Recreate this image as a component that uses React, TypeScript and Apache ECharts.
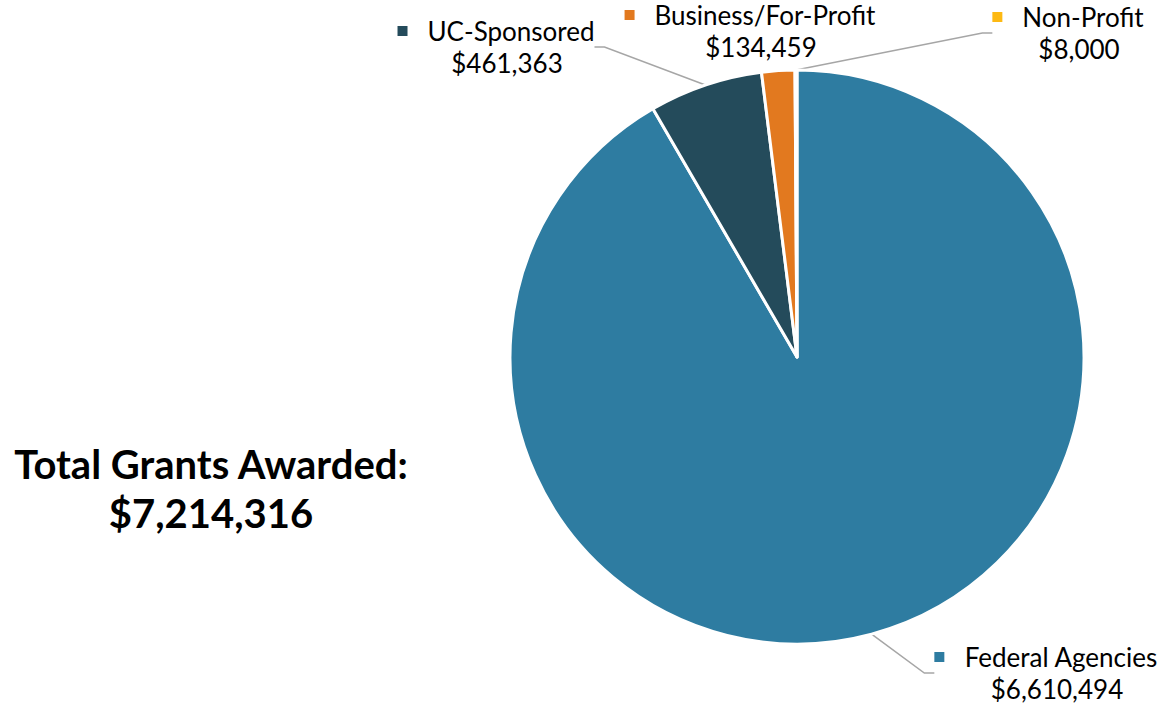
import React, { useEffect, useRef } from "react";
import * as echarts from "echarts";

const categories = ["Federal Agencies", "UC-Sponsored", "Business/For-Profit", "Non-Profit"];
const values = [6610494, 461363, 134459, 8000];
const colors = ["#2E7CA1", "#244B5B", "#E2791F", "#FDB913"];
const totalLabel = "Total Grants Awarded:";

// label block centers (layout only)
const labelPos = [
  { x: 1046, y: 673 },
  { x: 496, y: 47 },
  { x: 750, y: 31 },
  { x: 1068, y: 33 },
];

const fmt = (v: number) => "$" + v.toLocaleString("en-US");

export default function App() {
  const ref = useRef<HTMLDivElement>(null);
  useEffect(() => {
    document.body.style.margin = "0";
    const chart = echarts.init(ref.current!, null, { renderer: "svg" });
    const total = values.reduce((a, b) => a + b, 0);
    const font = "Lato, 'Noto Sans', sans-serif";
    chart.setOption({
      animation: false,
      graphic: [
        {
          type: "text",
          x: 211,
          y: 439,
          style: {
            text: totalLabel + "\n" + fmt(total),
            font: `bold 40px ${font}`,
            fill: "#000",
            align: "center",
            verticalAlign: "top",
            lineHeight: 49,
          },
        },
      ],
      series: [
        {
          type: "pie",
          center: [797, 357],
          radius: 287,
          startAngle: 90,
          clockwise: true,
          itemStyle: { borderColor: "#fff", borderWidth: 3 },
          label: {
            show: true,
            position: "outside",
            fontFamily: font,
            fontSize: 26,
            color: "#000",
            lineHeight: 32,
            formatter: (p: any) => `{m| }   ${p.name}\n{pad| }${fmt(p.value)}`,
          },
          labelLine: {
            show: true,
            length: 20,
            length2: 10,
            lineStyle: { color: "#A6A6A6", width: 1.5 },
          },
          labelLayout: (p: any) => ({
            x: labelPos[p.dataIndex].x,
            y: labelPos[p.dataIndex].y,
            align: "center",
            verticalAlign: "middle",
          }),
          data: categories.map((c, i) => ({
            name: c,
            value: values[i],
            itemStyle: { color: colors[i] },
            label: {
              rich: {
                m: { width: 10, height: 10, lineHeight: 10, fontSize: 2, backgroundColor: colors[i] },
                pad: { width: 22, fontSize: 2 },
              },
            },
            labelLine: i === 2 ? { show: false } : undefined,
          })),
        },
      ],
    });
    return () => chart.dispose();
  }, []);
  return <div ref={ref} style={{ width: 1160, height: 704 }} />;
}
